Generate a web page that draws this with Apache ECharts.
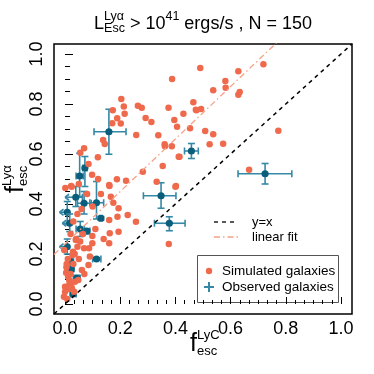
<!DOCTYPE html>
<html>
<head>
<meta charset="utf-8">
<script src="https://cdn.jsdelivr.net/npm/echarts@6/dist/echarts.min.js"></script>
<style>
html, body { margin: 0; padding: 0; background: #fff; }
#main { width: 374px; height: 374px; }
</style>
</head>
<body>
<div id="main"></div>
<script>
// simulated galaxies (fesc LyC, fesc Lya)
var simX = [0.388, 0.204, 0.173, 0.213, 0.216, 0.189, 0.171, 0.202, 0.264, 0.278, 0.292, 0.313, 0.258, 0.138, 0.144, 0.069, 0.055, 0.119,
  0.338, 0.361, 0.362, 0.387, 0.375, 0.396, 0.429, 0.465, 0.476, 0.406, 0.412, 0.354, 0.282, 0.188, 0.098, 0.332, 0.402, 0.161, 0.221,
  0.001, 0.022, 0.49, 0.719, 0.628, 0.581, 0.582, 0.537, 0.633, 0.628, 0.474, 0.493, 0.453, 0.508, 0.537, 0.773, 0.524, 0.573, 0.415,
  0.667, 0.024, 0.16, 0.4, 0.166, 0.175, 0.194, 0.227, 0.257, 0.19, 0.16, 0.162, 0.194, 0.16, 0.099, 0.099, 0.069, 0.045, 0.087, 0.029,
  0.027, -0.003, 0.039, 0.085, 0.061, 0.005, 0.011, 0.015, 0.0, 0.0, -0.004, 0.015, 0.033, 0.048, 0.036, 0.023, 0.376,
  0.008, 0.012, 0.02, 0.03, 0.01, 0.035, 0.05, 0.04, 0.055, 0.065, 0.02, 0.03, 0.045, 0.06, 0.1, 0.08, 0.13, 0.12, 0.085, 0.05,
  0.004, 0.018, 0.07, 0.11, 0.14, 0.025, 0.006, 0.09]
var simY = [0.90, 0.82, 0.775, 0.79, 0.761, 0.743, 0.723, 0.722, 0.793, 0.785, 0.744, 0.728, 0.676, 0.656, 0.64, 0.623, 0.605, 0.587,
  0.675, 0.639, 0.631, 0.631, 0.785, 0.736, 0.761, 0.807, 0.775, 0.709, 0.589, 0.552, 0.529, 0.499, 0.517, 0.489, 0.472, 0.472, 0.493,
  0.464, 0.472, 0.944, 0.959, 0.931, 0.892, 0.865, 0.855, 0.848, 0.837, 0.777, 0.78, 0.703, 0.692, 0.679, 0.693, 0.639, 0.641, 0.589,
  0.537, 0.469, 0.476, 0.469, 0.429, 0.405, 0.383, 0.356, 0.329, 0.349, 0.336, 0.283, 0.289, 0.243, 0.272, 0.243, 0.223, 0.229, 0.223, 0.209,
  0.196, 0.216, 0.256, 0.156, 0.136, 0.147, 0.109, 0.096, 0.069, 0.049, 0.029, 0.076, 0.049, 0.096, 0.089, 0.069, 0.24,
  0.02, 0.06, 0.12, 0.16, 0.18, 0.2, 0.18, 0.26, 0.25, 0.28, 0.28, 0.33, 0.36, 0.38, 0.39, 0.44, 0.44, 0.5, 0.56, 0.48,
  0.125, 0.085, 0.12, 0.3, 0.26, 0.06, 0.16, 0.19]

// observed galaxies
var obsX = [0.159, 0.458, 0.725, 0.053, 0.072, 0.348, 0.378, 0.039, 0.069, 0.114, 0.008, 0.017, 0.055, 0.079, 0.13, 0.008, 0.021, 0.023, 0.114, 0.043, 0.029]
var obsY = [0.689, 0.612, 0.521, 0.512, 0.544, 0.433, 0.323, 0.427, 0.403, 0.405, 0.367, 0.323, 0.30, 0.292, 0.343, 0.229, 0.169, 0.14, 0.18, 0.103, 0.04]
var obsXLo = [0.105, 0.433, 0.627, 0.04, 0.064, 0.284, 0.324, 0.0, 0.045, 0.09, -0.02, -0.01, 0.04, 0.07, 0.125, -0.02, 0.015, 0.017, 0.1, 0.03, 0.02]
var obsXHi = [0.221, 0.483, 0.822, 0.066, 0.08, 0.402, 0.435, 0.063, 0.095, 0.14, 0.008, 0.017, 0.07, 0.09, 0.135, 0.008, 0.027, 0.029, 0.13, 0.055, 0.04]
var obsYLo = [0.599, 0.582, 0.48, 0.43, 0.47, 0.383, 0.293, 0.39, 0.36, 0.34, 0.32, 0.29, 0.27, 0.28, 0.335, 0.2, 0.16, 0.13, 0.175, 0.09, 0.035]
var obsYHi = [0.779, 0.642, 0.562, 0.603, 0.59, 0.485, 0.349, 0.47, 0.45, 0.49, 0.41, 0.36, 0.33, 0.30, 0.35, 0.26, 0.18, 0.15, 0.185, 0.115, 0.045]
var obsUpper = [0, 0, 0, 0, 0, 0, 0, 1, 0, 0, 1, 1, 0, 0, 0, 1, 0, 0, 0, 0, 0]

var majorTicks = [0, 0.2, 0.4, 0.6, 0.8, 1.0]
var xMinorTicks = []
for (var i = 0; i <= 30; i++) xMinorTicks.push(i / 30)
var yMinorTicks = []
for (var j = 0; j <= 20; j++) yMinorTicks.push(j / 20)
var fitSlope = 1.05
var fitIntercept = 0.24
var axisMin = -0.04
var axisMax = 1.04

var simColor = '#EF6A4D'
var obsColor = '#0A5E7C'
var errColor = '#3589A6'
var fitColor = '#F6A287'
var font = '"Liberation Sans", Arial, sans-serif'

var chart = echarts.init(document.getElementById('main'))

var measureCtx = document.createElement('canvas').getContext('2d')
function textWidth (str, size) {
  measureCtx.font = size + 'px ' + font
  return measureCtx.measureText(str).width
}
// y is the text baseline
function txt (str, x, y, size, color) {
  return {
    type: 'text',
    x: x,
    y: y - 0.35 * size,
    style: { text: str, fill: color || '#000', font: size + 'px ' + font, verticalAlign: 'middle', align: 'left' }
  }
}
// pieces: {t} in base size, or {sup, sub, size} stacked after the previous piece
function mathText (pieces, baseSize, supShift, subShift) {
  var out = []
  var x = 0
  pieces.forEach(function (p) {
    if (p.t !== undefined) {
      out.push(txt(p.t, x, 0, baseSize))
      x += textWidth(p.t, baseSize)
    } else {
      var w = 0
      if (p.sup) {
        out.push(txt(p.sup, x, -supShift, p.size))
        w = Math.max(w, textWidth(p.sup, p.size))
      }
      if (p.sub) {
        out.push(txt(p.sub, x, subShift, p.size))
        w = Math.max(w, textWidth(p.sub, p.size))
      }
      x += w
    }
  })
  return { children: out, width: x }
}

var title = mathText([
  { t: 'L' }, { sup: 'Lyα', sub: 'Esc', size: 12.5 },
  { t: ' > 10' }, { sup: '41', size: 12.5 },
  { t: ' ergs/s , N = 150' }
], 18, 10, 2.5)
var xName = mathText([{ t: 'f' }, { sup: 'LyC', sub: 'esc', size: 13 }], 25, 13, 3)
var yName = mathText([{ t: 'f' }, { sup: 'Lyα', sub: 'esc', size: 13 }], 25, 13, 3)

function lineData (fn) {
  return [[axisMin, fn(axisMin)], [axisMax, fn(axisMax)]]
}

function renderObs (params, api) {
  var c = api.coord([api.value(0), api.value(1)])
  var xl = api.coord([api.value(2), api.value(1)])[0]
  var xh = api.coord([api.value(3), api.value(1)])[0]
  var yl = api.coord([api.value(0), api.value(4)])[1]
  var yh = api.coord([api.value(0), api.value(5)])[1]
  var cap = 3.5
  var st = { stroke: errColor, lineWidth: 1.6 }
  var segs = [
    [xl, c[1], xh, c[1]],
    [c[0], yl, c[0], yh],
    [xh, c[1] - cap, xh, c[1] + cap],
    [c[0] - cap, yl, c[0] + cap, yl],
    [c[0] - cap, yh, c[0] + cap, yh]
  ]
  if (api.value(6)) {
    segs.push([xl, c[1], xl + 4, c[1] - 3])
    segs.push([xl, c[1], xl + 4, c[1] + 3])
  } else {
    segs.push([xl, c[1] - cap, xl, c[1] + cap])
  }
  var children = segs.map(function (s) {
    return { type: 'line', shape: { x1: s[0], y1: s[1], x2: s[2], y2: s[3] }, style: st }
  })
  children.push({ type: 'circle', shape: { cx: c[0], cy: c[1], r: 3.6 }, style: { fill: obsColor } })
  return { type: 'group', children: children }
}

var option = {
  animation: false,
  backgroundColor: '#fff',
  grid: { left: 54, right: 22, top: 44, bottom: 60, show: true, borderColor: '#000', borderWidth: 1.5, backgroundColor: 'transparent' },
  xAxis: [{
    type: 'value', min: axisMin, max: axisMax, position: 'bottom',
    axisLine: { show: false }, splitLine: { show: false },
    axisTick: { inside: true, length: 7, customValues: majorTicks, lineStyle: { color: '#000', width: 1 } },
    axisLabel: { customValues: majorTicks, margin: 6, fontSize: 18, color: '#000', fontFamily: font, formatter: function (v) { return v.toFixed(1) } }
  }, {
    type: 'value', min: axisMin, max: axisMax, position: 'bottom',
    axisLine: { show: false }, splitLine: { show: false }, axisLabel: { show: false },
    axisTick: { inside: true, length: 4, customValues: xMinorTicks, lineStyle: { color: '#000', width: 1 } }
  }],
  yAxis: [{
    type: 'value', min: axisMin, max: axisMax, position: 'left',
    axisLine: { show: false }, splitLine: { show: false },
    axisTick: { inside: true, length: 8, customValues: majorTicks, lineStyle: { color: '#000', width: 1 } },
    axisLabel: { customValues: majorTicks, rotate: 90, margin: 8, fontSize: 18, color: '#000', fontFamily: font, formatter: function (v) { return v.toFixed(1) } }
  }, {
    type: 'value', min: axisMin, max: axisMax, position: 'left',
    axisLine: { show: false }, splitLine: { show: false }, axisLabel: { show: false },
    axisTick: { inside: true, length: 5, customValues: yMinorTicks, lineStyle: { color: '#000', width: 1 } }
  }],
  series: [{
    type: 'line', data: lineData(function (x) { return x }), symbol: 'none', silent: true,
    lineStyle: { color: '#000', width: 1.5, type: [4, 4] }
  }, {
    type: 'line', data: lineData(function (x) { return fitSlope * x + fitIntercept }), symbol: 'none', silent: true,
    lineStyle: { color: fitColor, width: 1.3, type: [6, 3, 1.5, 3] }
  }, {
    type: 'scatter', symbol: 'circle', symbolSize: 6.5,
    itemStyle: { color: simColor, opacity: 1 },
    data: simX.map(function (x, i) { return [x, simY[i]] })
  }, {
    type: 'custom', renderItem: renderObs,
    data: obsX.map(function (x, i) { return [x, obsY[i], obsXLo[i], obsXHi[i], obsYLo[i], obsYHi[i], obsUpper[i]] })
  }],
  graphic: [
    { type: 'group', x: 203 - title.width / 2, y: 30.5, children: title.children },
    { type: 'group', x: 190, y: 353, children: xName.children },
    { type: 'group', x: 25, y: 193, rotation: Math.PI / 2, children: yName.children },
    // line legend
    { type: 'line', shape: { x1: 214, y1: 222, x2: 238, y2: 222 }, style: { stroke: '#000', lineWidth: 1.3, lineDash: [4, 4] } },
    { type: 'line', shape: { x1: 214, y1: 237, x2: 238, y2: 237 }, style: { stroke: fitColor, lineWidth: 1.3, lineDash: [6, 3, 1.5, 3] } },
    txt('y=x', 252, 226.5, 13),
    txt('linear fit', 252, 241.5, 13),
    // point legend
    { type: 'rect', shape: { x: 197.5, y: 255.5, width: 141, height: 47 }, style: { fill: '#fff', stroke: '#555', lineWidth: 1 } },
    { type: 'circle', shape: { cx: 209, cy: 271, r: 3.2 }, style: { fill: simColor } },
    { type: 'line', shape: { x1: 204, y1: 287, x2: 214, y2: 287 }, style: { stroke: errColor, lineWidth: 2 } },
    { type: 'line', shape: { x1: 209, y1: 282, x2: 209, y2: 292 }, style: { stroke: errColor, lineWidth: 2 } },
    txt('Simulated galaxies', 222, 276, 13.5),
    txt('Observed galaxies', 222, 292, 13.5)
  ]
}
chart.setOption(option)
</script>
</body>
</html>
